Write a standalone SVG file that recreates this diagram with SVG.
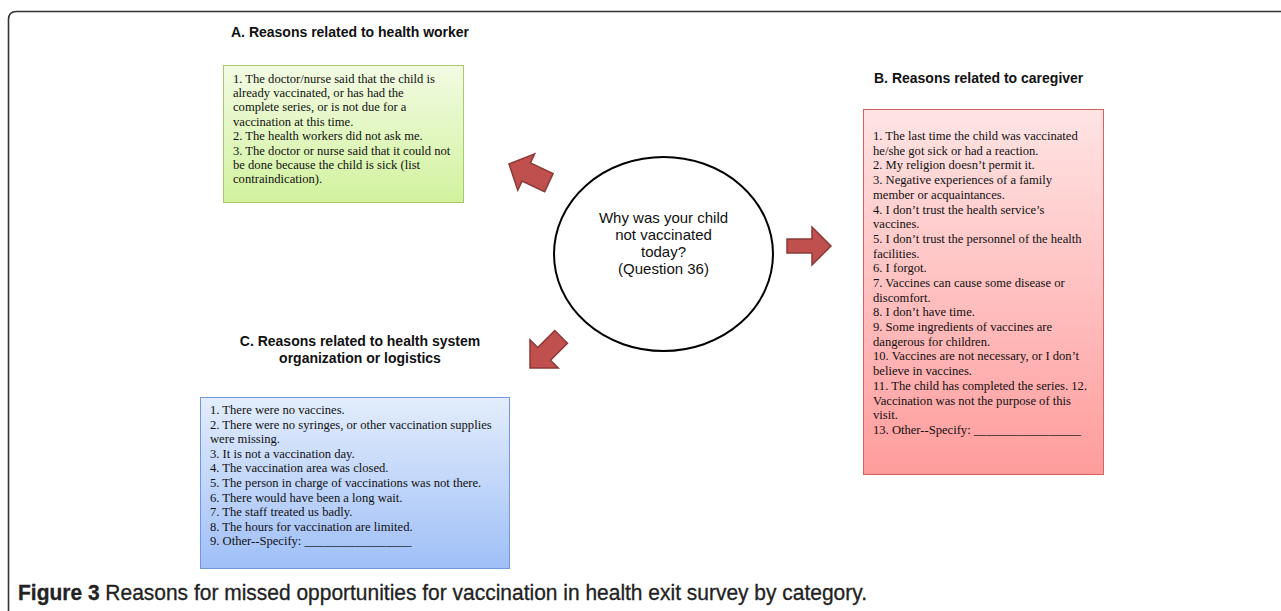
<svg xmlns="http://www.w3.org/2000/svg" width="1281" height="611" viewBox="0 0 1281 611">
<defs>
<linearGradient id="gA" x1="0" y1="0" x2="0" y2="1"><stop offset="0" stop-color="#F2FBE3"/><stop offset="1" stop-color="#D2F29E"/></linearGradient>
<linearGradient id="gB" x1="0" y1="0" x2="0" y2="1"><stop offset="0" stop-color="#FFE4E4"/><stop offset="1" stop-color="#FF9C9C"/></linearGradient>
<linearGradient id="gC" x1="0" y1="0" x2="0" y2="1"><stop offset="0" stop-color="#E3EDFC"/><stop offset="1" stop-color="#9FBFF7"/></linearGradient>
<style>
.title{font-family:"Liberation Sans",Arial,sans-serif;font-weight:bold;font-size:14px;fill:#111}
.body{font-family:"Liberation Serif","Times New Roman",serif;font-size:12.6px;fill:#111}
.q{font-family:"Liberation Sans",Arial,sans-serif;font-size:15px;fill:#111;text-anchor:middle}
.arrow{fill:#C0504D;stroke:#8C3A38;stroke-width:1.5;stroke-linejoin:miter}
</style>
</defs>
<rect width="1281" height="611" fill="#fff"/>
<path d="M8.5 611 V19.5 Q8.5 11.5 16.5 11.5 H1281" fill="none" stroke="#333" stroke-width="1.6"/>

<g id="node-a">
<text class="title" x="231" y="37">A. Reasons related to health worker</text>
<rect x="223.5" y="65.5" width="240" height="137" fill="url(#gA)" stroke="#A8C96C" stroke-width="1"/>
<text class="body" x="233" y="82.5">
<tspan x="233" dy="0">1. The doctor/nurse said that the child is</tspan>
<tspan x="233" dy="14.4">already vaccinated, or has had the</tspan>
<tspan x="233" dy="14.4">complete series, or is not due for a</tspan>
<tspan x="233" dy="14.4">vaccination at this time.</tspan>
<tspan x="233" dy="14.4">2. The health workers did not ask me.</tspan>
<tspan x="233" dy="14.4">3. The doctor or nurse said that it could not</tspan>
<tspan x="233" dy="14.4">be done because the child is sick (list</tspan>
<tspan x="233" dy="14.4">contraindication).</tspan>
</text>
</g>

<g id="node-b">
<text class="title" x="874" y="83">B. Reasons related to caregiver</text>
<rect x="863.5" y="109.5" width="240" height="365" fill="url(#gB)" stroke="#D9605E" stroke-width="1"/>
<text class="body" x="873" y="140">
<tspan x="873" dy="0">1. The last time the child was vaccinated</tspan>
<tspan x="873" dy="14.7">he/she got sick or had a reaction.</tspan>
<tspan x="873" dy="14.7">2. My religion doesn’t permit it.</tspan>
<tspan x="873" dy="14.7">3. Negative experiences of a family</tspan>
<tspan x="873" dy="14.7">member or acquaintances.</tspan>
<tspan x="873" dy="14.7">4. I don’t trust the health service’s</tspan>
<tspan x="873" dy="14.7">vaccines.</tspan>
<tspan x="873" dy="14.7">5. I don’t trust the personnel of the health</tspan>
<tspan x="873" dy="14.7">facilities.</tspan>
<tspan x="873" dy="14.7">6. I forgot.</tspan>
<tspan x="873" dy="14.7">7. Vaccines can cause some disease or</tspan>
<tspan x="873" dy="14.7">discomfort.</tspan>
<tspan x="873" dy="14.7">8. I don’t have time.</tspan>
<tspan x="873" dy="14.7">9. Some ingredients of vaccines are</tspan>
<tspan x="873" dy="14.7">dangerous for children.</tspan>
<tspan x="873" dy="14.7">10. Vaccines are not necessary, or I don’t</tspan>
<tspan x="873" dy="14.7">believe in vaccines.</tspan>
<tspan x="873" dy="14.7">11. The child has completed the series. 12.</tspan>
<tspan x="873" dy="14.7">Vaccination was not the purpose of this</tspan>
<tspan x="873" dy="14.7">visit.</tspan>
<tspan x="873" dy="14.7">13. Other--Specify: _________________</tspan>
</text>
</g>

<g id="node-c">
<text class="title" text-anchor="middle" x="360" y="346">C. Reasons related to health system</text>
<text class="title" text-anchor="middle" x="360" y="363">organization or logistics</text>
<rect x="200.5" y="397.5" width="309" height="171" fill="url(#gC)" stroke="#6E9BD8" stroke-width="1"/>
<text class="body" x="210" y="414">
<tspan x="210" dy="0">1. There were no vaccines.</tspan>
<tspan x="210" dy="14.6">2. There were no syringes, or other vaccination supplies</tspan>
<tspan x="210" dy="14.6">were missing.</tspan>
<tspan x="210" dy="14.6">3. It is not a vaccination day.</tspan>
<tspan x="210" dy="14.6">4. The vaccination area was closed.</tspan>
<tspan x="210" dy="14.6">5. The person in charge of vaccinations was not there.</tspan>
<tspan x="210" dy="14.6">6. There would have been a long wait.</tspan>
<tspan x="210" dy="14.6">7. The staff treated us badly.</tspan>
<tspan x="210" dy="14.6">8. The hours for vaccination are limited.</tspan>
<tspan x="210" dy="14.6">9. Other--Specify: _________________</tspan>
</text>
</g>

<g id="node-center">
<ellipse cx="663.5" cy="254" rx="109.5" ry="97" fill="#fff" stroke="#000" stroke-width="2"/>
<text class="q" x="663.5" y="223">Why was your child</text>
<text class="q" x="663.5" y="240">not vaccinated</text>
<text class="q" x="663.5" y="257">today?</text>
<text class="q" x="663.5" y="274">(Question 36)</text>
</g>

<g id="connectors">
<polygon class="arrow" transform="translate(509,164) rotate(205)" points="0,0 -19,-20 -19,-10 -44,-10 -44,10 -19,10 -19,20"/>
<polygon class="arrow" transform="translate(831,246)" points="0,0 -19,-19 -19,-7 -44,-7 -44,7 -19,7 -19,19"/>
<polygon class="arrow" transform="translate(530,368) rotate(135)" points="0,0 -20,-20 -20,-9 -44,-9 -44,9 -20,9 -20,20"/>
</g>

<text x="18" y="600" font-family="'Liberation Sans',Arial,sans-serif" font-size="21.5" fill="#222" stroke="#222" stroke-width="0.3" textLength="849" lengthAdjust="spacingAndGlyphs"><tspan font-weight="bold">Figure 3</tspan> Reasons for missed opportunities for vaccination in health exit survey by category.</text>
</svg>
